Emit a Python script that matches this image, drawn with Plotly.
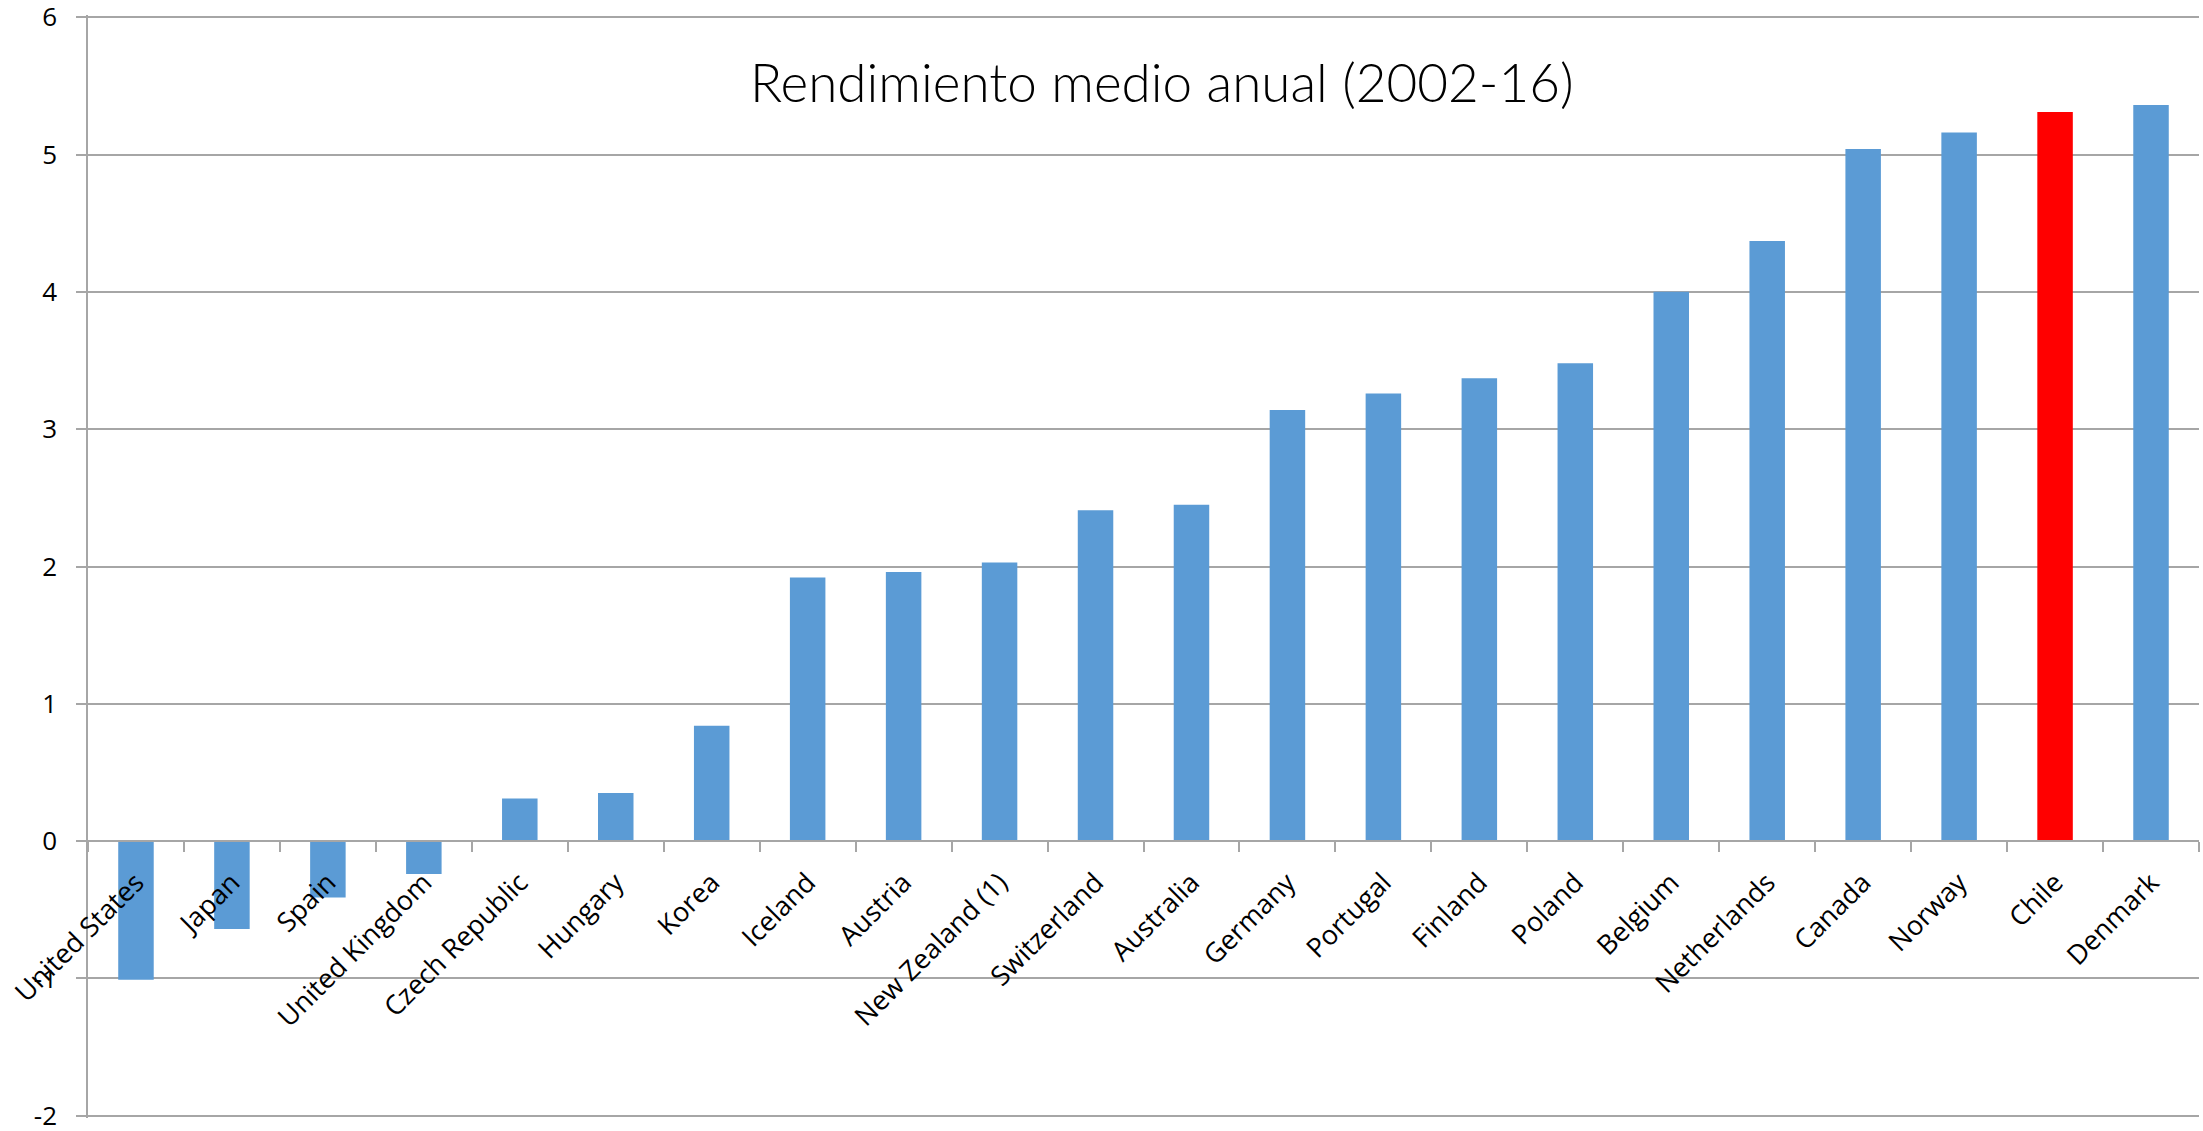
import plotly.graph_objects as go

countries = ["United States", "Japan", "Spain", "United Kingdom", "Czech Republic",
             "Hungary", "Korea", "Iceland", "Austria", "New Zealand (1)", "Switzerland",
             "Australia", "Germany", "Portugal", "Finland", "Poland", "Belgium",
             "Netherlands", "Canada", "Norway", "Chile", "Denmark"]
values = [-1.01, -0.64, -0.41, -0.24, 0.31, 0.35, 0.84, 1.92, 1.96, 2.03, 2.41,
          2.45, 3.14, 3.26, 3.37, 3.48, 4.00, 4.37, 5.04, 5.16, 5.31, 5.36]
highlight = "Chile"
title_text = "Rendimiento medio anual (2002-16)"
y_ticks = [-2, -1, 0, 1, 2, 3, 4, 5, 6]

BLUE = "#5B9BD5"
RED = "#FF0000"
GRID = "#A6A6A6"

colors = [RED if c == highlight else BLUE for c in countries]

fig = go.Figure(go.Bar(x=countries, y=values, marker=dict(color=colors, line=dict(width=0)),
                       showlegend=False))

Y0, Y1 = -2.016, 6.016

fig.update_layout(
    width=2203, height=1131,
    margin=dict(l=88, r=4, t=15, b=13, autoexpand=False),
    paper_bgcolor="white", plot_bgcolor="white",
    bargap=0.63,
    font=dict(family="Open Sans, Liberation Sans, sans-serif", color="black"),
    xaxis=dict(
        type="category",
        anchor="free", position=(0 - Y0) / (Y1 - Y0),
        showline=True, linecolor=GRID, linewidth=1.5,
        ticks="outside", ticklen=10, tickcolor=GRID, tickwidth=1.5,
        tickson="boundaries",
        tickangle=-45,
        ticklabelstandoff=14,
        tickfont=dict(size=27, family="Open Sans, sans-serif", color="black"),
        showgrid=False, automargin=False,
    ),
    yaxis=dict(
        range=[Y0, Y1],
        tickmode="array", tickvals=y_ticks, ticktext=[str(v) for v in y_ticks],
        showline=True, linecolor=GRID, linewidth=1.5,
        ticks="outside", ticklen=10, tickcolor=GRID, tickwidth=1.5,
        showgrid=True, gridcolor=GRID, gridwidth=1.5,
        zeroline=False,
        ticklabeloverflow="allow",
        tickfont=dict(size=26, family="Open Sans, sans-serif", color="black"),
        ticklabelstandoff=14,
        automargin=False,
    ),
    annotations=[dict(
        text=title_text, xref="paper", yref="paper", x=0.509, y=0.94,
        xanchor="center", yanchor="middle", showarrow=False,
        font=dict(size=53, family="Lato, sans-serif", color="black", weight=300),
    )],
)

fig.write_html("out.html",
               config={"displayModeBar": False},
               post_script="document.body.style.margin='0';document.body.style.overflow='hidden';")
